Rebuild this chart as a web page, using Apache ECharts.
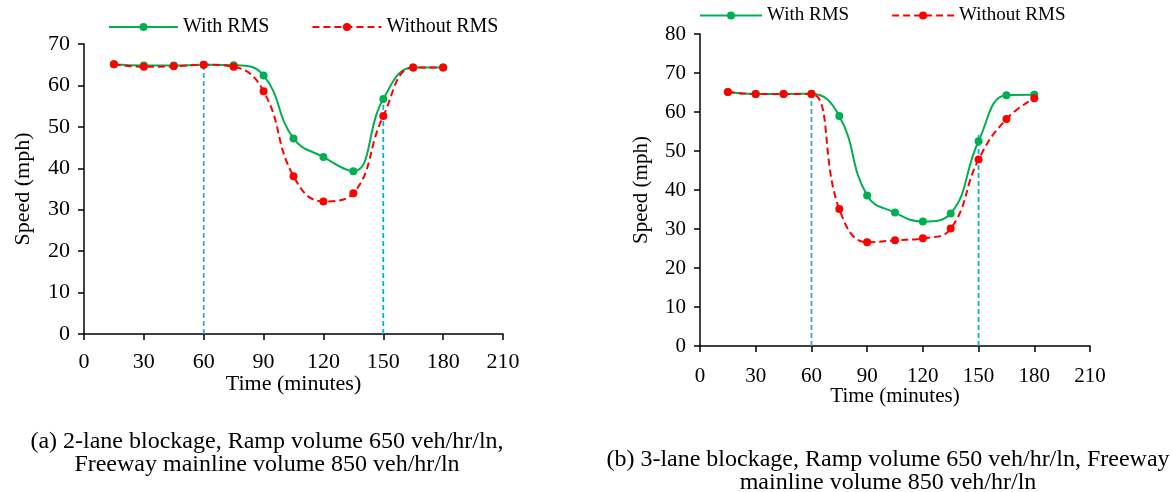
<!DOCTYPE html>
<html>
<head>
<meta charset="utf-8">
<script src="https://cdn.jsdelivr.net/npm/echarts@6/dist/echarts.min.js"></script>
<style>
  html, body { margin: 0; padding: 0; background: #fff; }
  #speedChart { width: 1172px; height: 492px; }
</style>
</head>
<body>
<div id="speedChart"></div>
<script>
// time steps (minutes)
var timeMin = [15, 30, 45, 60, 75, 90, 105, 120, 135, 150, 165, 180];

// (a) 2-lane blockage
var speedA_with = [65.1, 64.8, 64.8, 65.0, 64.9, 62.4, 47.2, 42.7, 39.3, 56.7, 64.3, 64.3];
var speedA_without = [65.1, 64.5, 64.6, 65.0, 64.5, 58.6, 38.1, 32.0, 34.0, 52.6, 64.3, 64.3];

// (b) 3-lane blockage
var speedB_with = [65.1, 64.6, 64.6, 64.7, 59.0, 38.6, 34.2, 31.9, 34.0, 52.5, 64.3, 64.4];
var speedB_without = [65.1, 64.6, 64.6, 64.6, 35.1, 26.6, 27.1, 27.6, 30.1, 47.8, 58.2, 63.5];

// dashed reference lines: time and top speed
var refTimes = [60, 150];
var refTopA = [64.9, 55.4];
var refTopB = [63.4, 54.1];
var refColors = ['#4A9AD8', '#00B0F0'];

var xTicksMax = 210;
var yMaxA = 70, yMaxB = 80;

var FONT = 'Liberation Serif';

function pairs(xs, ys) {
    return xs.map(function (x, i) { return [x, ys[i]]; });
}

function speedSeries(name, idx, values, green, size) {
    return {
        name: name,
        type: 'line',
        xAxisIndex: idx,
        yAxisIndex: idx,
        data: pairs(timeMin, values),
        smooth: 0.45,
        symbol: 'circle',
        symbolSize: size,
        z: 3,
        itemStyle: { color: green ? '#00B050' : '#FF0000' },
        lineStyle: green ? { color: '#00B050', width: 2 }
                         : { color: '#FF0000', width: 2, type: [7, 4] }
    };
}

function refSeries(idx, tops) {
    return refTimes.map(function (t, i) {
        return {
            name: 'ref' + idx + '_' + i,
            type: 'line',
            xAxisIndex: idx,
            yAxisIndex: idx,
            data: [[t, 0], [t, tops[i]]],
            symbol: 'none',
            z: 2,
            lineStyle: { color: refColors[i], width: 1.8, type: [5, 3] }
        };
    });
}

function xAx(idx, fs, nfs, gap, margin) {
    return {
        type: 'value', gridIndex: idx, min: 0, max: xTicksMax, interval: 30,
        name: 'Time (minutes)', nameLocation: 'middle', nameGap: gap,
        nameMoveOverlap: false,
        nameTextStyle: { fontFamily: FONT, fontSize: nfs, color: '#000' },
        axisLine: { onZero: false, lineStyle: { color: '#000', width: 1.5 } },
        axisTick: { show: true, length: 6, lineStyle: { color: '#000', width: 1.5 } },
        axisLabel: { fontFamily: FONT, fontSize: fs, color: '#000', margin: margin },
        splitLine: { show: false }
    };
}

function yAx(idx, max, fs, nfs, gap) {
    return {
        type: 'value', gridIndex: idx, min: 0, max: max, interval: 10,
        name: 'Speed (mph)', nameLocation: 'middle', nameGap: gap,
        nameMoveOverlap: false,
        nameTextStyle: { fontFamily: FONT, fontSize: nfs, color: '#000' },
        axisLine: { show: true, lineStyle: { color: '#000', width: 1.5 } },
        axisTick: { show: true, length: 6, lineStyle: { color: '#000', width: 1.5 } },
        axisLabel: { fontFamily: FONT, fontSize: fs, color: '#000', margin: 14 },
        splitLine: { show: false }
    };
}

var chart = echarts.init(document.getElementById('speedChart'));

var option = {
    animation: false,
    backgroundColor: '#fff',
    grid: [
        { left: 84, top: 44, width: 419, height: 290 },
        { left: 700, top: 34, width: 390, height: 312 }
    ],
    legend: [
        {
            data: ['With RMS', 'Without RMS'],
            left: 103, top: 12,
            itemWidth: 69, itemHeight: 10, itemGap: 42,
            textStyle: { fontFamily: FONT, fontSize: 20, color: '#000' }
        },
        {
            data: ['With RMS', 'Without RMS'],
            left: 694, top: 1,
            itemWidth: 62, itemHeight: 10, itemGap: 42,
            textStyle: { fontFamily: FONT, fontSize: 19, color: '#000' }
        }
    ],
    xAxis: [xAx(0, 22, 22, 39, 17), xAx(1, 21, 21, 40, 20)],
    yAxis: [yAx(0, yMaxA, 22, 22, 50), yAx(1, yMaxB, 21, 21, 48)],
    series: [].concat(
        refSeries(0, refTopA),
        refSeries(1, refTopB),
        [
            speedSeries('With RMS', 0, speedA_with, true, 8),
            speedSeries('Without RMS', 0, speedA_without, false, 8),
            speedSeries('With RMS', 1, speedB_with, true, 8),
            speedSeries('Without RMS', 1, speedB_without, false, 8)
        ]
    ),
    graphic: [
        {
            type: 'text',
            style: {
                text: '(a) 2-lane blockage, Ramp volume 650 veh/hr/ln,\nFreeway mainline volume 850 veh/hr/ln',
                fontFamily: FONT, fontSize: 24, lineHeight: 23,
                fill: '#000', x: 267, y: 430, align: 'center'
            }
        },
        {
            type: 'text',
            style: {
                text: '(b) 3-lane blockage, Ramp volume 650 veh/hr/ln, Freeway\nmainline volume 850 veh/hr/ln',
                fontFamily: FONT, fontSize: 24, lineHeight: 23,
                fill: '#000', x: 888, y: 448, align: 'center'
            }
        }
    ]
};

chart.setOption(option);
</script>
</body>
</html>
